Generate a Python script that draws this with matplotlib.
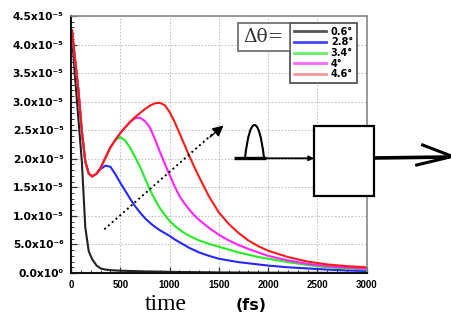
import matplotlib
matplotlib.use("Agg")
import matplotlib.pyplot as plt
from matplotlib.lines import Line2D
from matplotlib.patches import Rectangle, PathPatch
from matplotlib.path import Path
from matplotlib.ticker import MultipleLocator
import numpy as np

# ---------------- data ----------------
time_fs = [10, 40, 75, 110, 145, 180, 215, 260, 300, 350, 400, 450, 500, 550, 600,
           650, 700, 750, 800, 850, 900, 950, 1000, 1050, 1100, 1150, 1200, 1250,
           1300, 1400, 1500, 1600, 1700, 1800, 1900, 2000, 2200, 2400, 2600, 2800, 3000]

# values in units of 1e-5
black_06 = [4.15, 3.45, 2.7, 1.95, 0.8, 0.38, 0.24, 0.13, 0.08, 0.06, 0.05, 0.045, 0.04,
            0.038, 0.035, 0.033, 0.03, 0.028, 0.026, 0.025, 0.024, 0.022, 0.02, 0.019,
            0.018, 0.017, 0.016, 0.015, 0.014, 0.012, 0.01, 0.009, 0.008, 0.007, 0.006,
            0.005, 0.004, 0.003, 0.002, 0.002, 0.001]
blue_28 = [4.25, 3.75, 3.2, 2.48, 1.95, 1.74, 1.69, 1.74, 1.82, 1.88, 1.86, 1.73, 1.58,
           1.44, 1.3, 1.17, 1.06, 0.96, 0.88, 0.81, 0.75, 0.7, 0.65, 0.59, 0.54, 0.49,
           0.44, 0.4, 0.36, 0.3, 0.25, 0.22, 0.19, 0.17, 0.15, 0.13, 0.1, 0.08, 0.06,
           0.045, 0.035]
green_34 = [4.25, 3.75, 3.2, 2.48, 1.95, 1.74, 1.69, 1.74, 1.84, 2.02, 2.2, 2.33, 2.38,
            2.32, 2.19, 2.03, 1.86, 1.66, 1.46, 1.29, 1.14, 1.02, 0.91, 0.83, 0.76, 0.7,
            0.65, 0.61, 0.57, 0.51, 0.46, 0.41, 0.36, 0.32, 0.28, 0.25, 0.19, 0.14,
            0.1, 0.08, 0.06]
magenta_40 = [4.25, 3.75, 3.2, 2.48, 1.95, 1.74, 1.69, 1.74, 1.84, 2.02, 2.2, 2.33, 2.45,
              2.55, 2.64, 2.71, 2.72, 2.66, 2.55, 2.35, 2.13, 1.92, 1.72, 1.52, 1.35, 1.22,
              1.11, 1.01, 0.93, 0.79, 0.67, 0.57, 0.49, 0.42, 0.36, 0.3, 0.22, 0.16, 0.12,
              0.095, 0.075]
red_46 = [4.25, 3.75, 3.2, 2.48, 1.95, 1.74, 1.69, 1.74, 1.84, 2.02, 2.2, 2.33, 2.45,
          2.55, 2.65, 2.73, 2.8, 2.87, 2.93, 2.97, 2.98, 2.94, 2.82, 2.65, 2.45, 2.25,
          2.05, 1.86, 1.68, 1.34, 1.06, 0.86, 0.7, 0.57, 0.47, 0.39, 0.28, 0.2, 0.15,
          0.12, 0.1]
value_scale = 1e-5

series_labels = ["0.6°", "2.8°", "3.4°", "4°", "4.6°"]
series_values = [black_06, blue_28, green_34, magenta_40, red_46]
line_colors = ["#222222", "#2626ff", "#22ee22", "#ff22ff", "#ff1a1a"]
legend_colors = ["#555555", "#4444ff", "#66ee66", "#ff66ff", "#ff9999"]

x_ticks = [0, 500, 1000, 1500, 2000, 2500, 3000]
x_tick_labels = ["0", "500", "1000", "1500", "2000", "2500", "3000"]
y_ticks = [0, 5e-6, 1e-5, 1.5e-5, 2e-5, 2.5e-5, 3e-5, 3.5e-5, 4e-5, 4.5e-5]
y_tick_labels = ["0.0x10⁰", "5.0x10⁻⁶", "1.0x10⁻⁵", "1.5x10⁻⁵", "2.0x10⁻⁵",
                 "2.5x10⁻⁵", "3.0x10⁻⁵", "3.5x10⁻⁵", "4.0x10⁻⁵", "4.5x10⁻⁵"]

# ---------------- figure ----------------
W, H = 451, 320
fig = plt.figure(figsize=(W / 100, H / 100), dpi=100)
fig.patch.set_facecolor("white")

L, R, T, B = 71, 366.7, 16, 273
ax = fig.add_axes([L / W, 1 - B / H, (R - L) / W, (B - T) / H])

t = np.array(time_fs)
for vals, col in zip(series_values, line_colors):
    ax.plot(t, np.array(vals) * value_scale, color=col, lw=1.5,
            solid_capstyle="round", solid_joinstyle="round")

ax.set_xlim(0, 3000)
ax.set_ylim(0, 4.5e-5)
ax.set_xticks(x_ticks)
ax.set_xticklabels(x_tick_labels, fontfamily="Liberation Sans", fontweight="bold", fontsize=7)
ax.set_yticks(y_ticks)
ysize = 7.3
ypad = 5.5
ax.set_yticklabels(y_tick_labels, fontfamily="DejaVu Sans", fontweight="bold", fontsize=ysize)
ax.xaxis.set_minor_locator(MultipleLocator(100))
ax.yaxis.set_minor_locator(MultipleLocator(1e-6))
ax.tick_params(which="major", direction="in", length=4, width=0.9, color="#333333")
ax.tick_params(which="minor", direction="in", length=2.5, width=0.7, color="#333333")
ax.tick_params(axis="y", which="major", pad=ypad)
ax.tick_params(axis="x", which="major", pad=5)
ax.grid(True, which="major", color="#c4c4c4", lw=0.8, ls=(0, (1.5, 1.5)))
for s in ["left", "bottom"]:
    ax.spines[s].set_color("#111111")
    ax.spines[s].set_linewidth(1.5)
for s in ["top", "right"]:
    ax.spines[s].set_color("#888888")
    ax.spines[s].set_linewidth(1.2)

# fit y tick label size so "4.5x10-5" spans ~ x=12..63 px like the reference
fig.canvas.draw()
renderer = fig.canvas.get_renderer()
bb = ax.get_yticklabels()[-1].get_window_extent(renderer)
ysize = ysize * 51.0 / max(bb.width, 1)
for lab in ax.get_yticklabels():
    lab.set_fontsize(ysize)
fig.canvas.draw()
bb = ax.get_yticklabels()[-1].get_window_extent(renderer)
ypad = ypad + (bb.x1 - 63.5) * 72 / 100
ax.tick_params(axis="y", which="major", pad=ypad)

# legend
handles = [Line2D([], [], color=c, lw=2) for c in legend_colors]
leg = ax.legend(handles, series_labels, loc="upper left",
                bbox_to_anchor=(290 / W, 1 - 22.7 / H), bbox_transform=fig.transFigure,
                borderaxespad=0, prop={"family": "DejaVu Sans", "weight": "bold", "size": 7},
                labelspacing=0.07, handlelength=3.3, handletextpad=0.5, borderpad=0.4,
                fancybox=False, framealpha=1)
leg.get_frame().set_edgecolor("#555555")
leg.get_frame().set_linewidth(1.3)

# axis titles
fig.text(166 / W, 1 - 305 / H, "time", fontfamily="Liberation Serif", fontsize=17,
         ha="center", va="center")
fig.text(251 / W, 1 - 306 / H, "(fs)", fontfamily="DejaVu Sans", fontweight="bold",
         fontsize=11.5, ha="center", va="center")

# ---------------- overlay diagram (pixel coords) ----------------
ov = fig.add_axes([0, 0, 1, 1], zorder=10)
ov.set_xlim(0, W)
ov.set_ylim(H, 0)
ov.axis("off")
ov.patch.set_alpha(0)

# delta theta box
ov.add_patch(Rectangle((237.7, 22.5), 52.3, 28, fill=True, facecolor="white",
                       edgecolor="#666666", lw=1.2))
ov.text(263.8, 37, "Δθ=", fontfamily="DejaVu Serif", fontsize=13.5,
        ha="center", va="center", color="#333333")

# dotted arrow
ov.plot([104.3, 212], [229.3, 134.5], color="black", lw=1.4, ls=(0, (1, 1.6)))
ov.annotate("", xy=(223.5, 125.5), xytext=(210, 137),
            arrowprops=dict(arrowstyle="-|>", color="black", lw=1.0,
                            mutation_scale=16, shrinkA=0, shrinkB=0))

# pulse icon
pulse = Path([(245, 158), (250, 114), (259, 114), (264, 158)],
             [Path.MOVETO, Path.CURVE4, Path.CURVE4, Path.CURVE4])
ov.add_patch(PathPatch(pulse, facecolor="white", edgecolor="black", lw=1.5))
ov.plot([234, 266], [158.3, 158.3], color="black", lw=2.4, solid_capstyle="butt")
ov.annotate("", xy=(314, 158.3), xytext=(264, 158.3),
            arrowprops=dict(arrowstyle="-|>", color="black", lw=1.3,
                            mutation_scale=7, shrinkA=0, shrinkB=0))

# box
ov.add_patch(Rectangle((314, 125.7), 60, 70, facecolor="white", edgecolor="black", lw=1.6))

# output arrow
ov.plot([374, 449], [158, 157], color="black", lw=2.6, solid_capstyle="butt")
ov.plot([422.7, 450], [145, 155.5], color="black", lw=2.2)
ov.plot([416.7, 450], [165, 157], color="black", lw=2.2)

fig.savefig("out.png", dpi=100, facecolor="white")
